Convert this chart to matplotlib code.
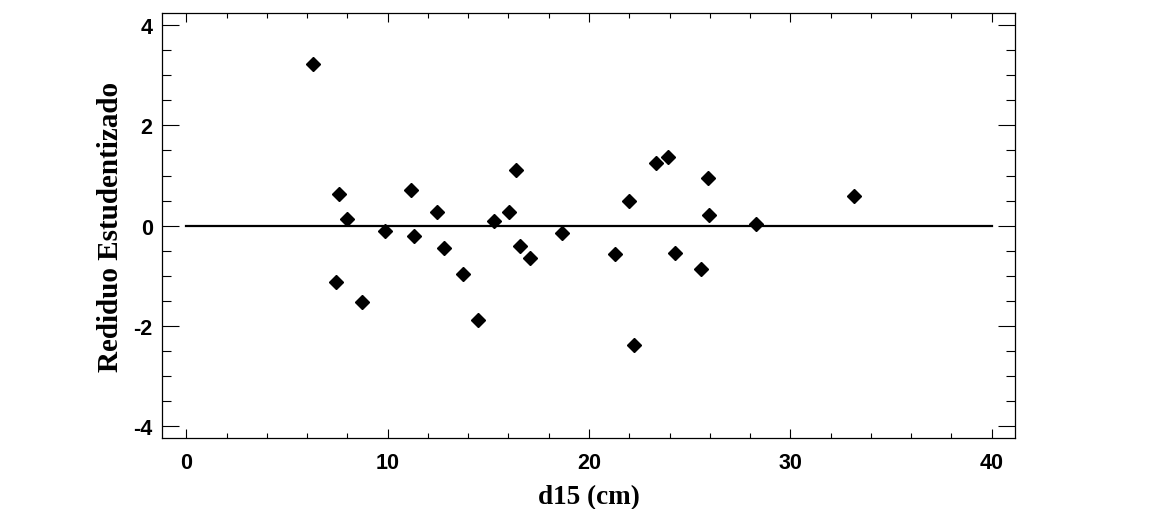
import matplotlib
matplotlib.use("Agg")
import matplotlib.pyplot as plt
from matplotlib.ticker import MultipleLocator

# d15 (cm) vs residuo estudentizado
d15 = [6.29, 7.60, 7.98, 7.44, 8.74, 9.88, 11.16, 11.32, 12.43, 12.80,
       13.76, 14.47, 15.28, 16.04, 16.39, 16.57, 17.07, 18.67, 21.29, 21.99,
       22.24, 23.33, 23.94, 24.29, 25.58, 25.90, 25.98, 28.31, 33.14]
residuo = [3.22, 0.63, 0.13, -1.13, -1.53, -0.11, 0.71, -0.21, 0.27, -0.44,
           -0.97, -1.89, 0.10, 0.27, 1.11, -0.40, -0.65, -0.15, -0.56, 0.49,
           -2.38, 1.25, 1.36, -0.54, -0.86, 0.96, 0.21, 0.03, 0.59]

linea_x = [0, 40]
linea_y = [0, 0]

x_label = "d15 (cm)"
y_label = "Rediduo Estudentizado"

plt.rcParams["axes.unicode_minus"] = False


def main():
    fig = plt.figure(figsize=(11.69, 5.10), dpi=100)
    ax = fig.add_axes([0.1389, 0.1386, 0.8685 - 0.1389, 0.9725 - 0.1386])

    ax.plot(linea_x, linea_y, color="black", lw=1.6, zorder=2)
    ax.plot(d15, residuo, linestyle="none", marker="D", ms=7.6,
            color="black", zorder=3)

    ax.set_xlim(-1.19, 41.17)
    ax.set_ylim(-4.24, 4.24)

    ax.xaxis.set_major_locator(MultipleLocator(10))
    ax.xaxis.set_minor_locator(MultipleLocator(2))
    ax.yaxis.set_major_locator(MultipleLocator(2))
    ax.yaxis.set_minor_locator(MultipleLocator(0.5))

    ax.tick_params(axis="x", which="major", direction="in", length=6.2,
                   width=0.8, top=True, pad=10)
    ax.tick_params(axis="x", which="minor", direction="in", length=3.3,
                   width=0.8, top=True)
    ax.tick_params(axis="y", which="major", direction="in", length=12.2,
                   width=0.8, right=True, pad=7)
    ax.tick_params(axis="y", which="minor", direction="in", length=6.3,
                   width=0.8, right=True)

    for lab in ax.get_xticklabels() + ax.get_yticklabels():
        lab.set_fontfamily("Liberation Sans")
        lab.set_fontweight("bold")
        lab.set_fontsize(15.5)

    for sp in ax.spines.values():
        sp.set_linewidth(0.9)

    ax.set_xlabel(x_label, family="Liberation Serif", fontweight="bold",
                  fontsize=19.5, labelpad=8)
    ax.set_ylabel(y_label, family="Liberation Serif", fontweight="bold",
                  fontsize=21, labelpad=7)

    fig.savefig("out.png", dpi=100)


if __name__ == "__main__":
    main()
